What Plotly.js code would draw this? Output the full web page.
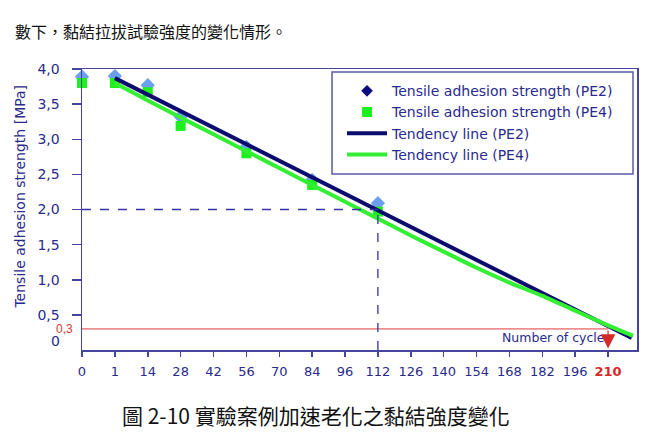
<!DOCTYPE html>
<html><head><meta charset="utf-8">
<script src="https://cdn.plot.ly/plotly-3.0.1.min.js"></script>
<style>html,body{margin:0;padding:0;background:#fff;}#chart{width:645px;height:435px;}</style>
</head><body><div id="chart"></div>
<script>
// ---- data ----
const cycleLabels = ['0','1','14','28','42','56','70','84','96','112','126','140','154','168','182','196','210'];
const testCycles = ['0','1','14','28','56','84','112'];
const strengthPE2 = [3.89, 3.90, 3.77, 3.32, 2.89, 2.42, 2.09];
const strengthPE4 = [3.80, 3.80, 3.67, 3.19, 2.80, 2.35, 1.97];
const trendPosPE2 = [1, 16.72];
const trendPE2 = [3.87, 0.17];
const trendPosPE4 = [1, 2, 3, 4, 5, 6, 7, 8, 9, 10, 11, 12, 13, 14, 15, 16, 16.76];
const trendPE4 = [3.80, 3.55, 3.31, 3.07, 2.83, 2.59, 2.35, 2.11, 1.87, 1.63, 1.40, 1.17, 0.96, 0.77, 0.56, 0.35, 0.20];
const yTickVals = [0.5, 1, 1.5, 2, 2.5, 3, 3.5, 4];
const yTickText = ['0,5', '1,0', '1,5', '2,0', '2,5', '3,0', '3,5', '4,0'];
const thresholdValue = 0.3;
const thresholdLabel = '0,3';
const targetCycle = '210';
const refValue = 2.0;
const refCycle = '112';
const legendNames = ['Tensile adhesion strength (PE2)', 'Tensile adhesion strength (PE4)', 'Tendency line (PE2)', 'Tendency line (PE4)'];
const topText = '數下，黏結拉拔試驗強度的變化情形。';
const captionText = '圖 2-10 實驗案例加速老化之黏結強度變化';
const yTitle = 'Tensile adhesion strength [MPa]';
const xTitle = 'Number of cycles';

// ---- derived ----
const idx = c => cycleLabels.indexOf(c);
const testPos = testCycles.map(idx);
const tickPos = cycleLabels.map((c, i) => i);
const tickText = cycleLabels.map(c => c === targetCycle ? "<b><span style='color:#d42a2a'>" + c + "</span></b>" : c);
const tPos = idx(targetCycle);
const rPos = idx(refCycle);

const NAVY = '#2a2a8c';
const AX = '#4545a0';
const FONT = 'DejaVu Sans, Verdana, sans-serif';
const FONT2 = 'Liberation Sans, Arial, sans-serif';
const CJK = 'Noto Sans CJK TC, sans-serif';

const traces = [
  {x: testPos, y: strengthPE2, type: 'scatter', mode: 'markers', showlegend: false, cliponaxis: false,
   marker: {symbol: 'diamond', size: 11, color: '#6c9ff0'}},
  {x: testPos, y: strengthPE4, type: 'scatter', mode: 'markers', name: legendNames[1], legendrank: 2, cliponaxis: false,
   marker: {symbol: 'square', size: 10, color: '#1ef01e'}},
  {x: trendPosPE2, y: trendPE2, type: 'scatter', mode: 'lines', name: legendNames[2], legendrank: 3,
   line: {color: '#0c0c6e', width: 4}},
  {x: trendPosPE4, y: trendPE4, type: 'scatter', mode: 'lines', name: legendNames[3], legendrank: 4,
   line: {color: '#33ee33', width: 4, shape: 'spline', smoothing: 0.6}},
  {x: [null], y: [null], type: 'scatter', mode: 'markers', name: legendNames[0], legendrank: 1,
   marker: {symbol: 'diamond', size: 9, color: '#0c0c80'}}
];

const layout = {
  width: 645, height: 435,
  margin: {l: 82, r: 8, t: 69, b: 85},
  paper_bgcolor: '#fff', plot_bgcolor: '#fff',
  font: {family: FONT, color: NAVY, size: 14},
  showlegend: true,
  legend: {x: 0.4685, y: 0.978, xanchor: 'left', yanchor: 'top', bgcolor: 'rgba(0,0,0,0)',
           borderwidth: 0, font: {family: FONT, size: 14, color: NAVY},
           itemwidth: 40, tracegroupgap: 0},
  xaxis: {range: [0, 16.88], tickvals: tickPos, ticktext: tickText, showgrid: false, zeroline: false,
          showline: true, linecolor: AX, linewidth: 1.5, mirror: true, ticks: 'outside', ticklen: 5,
          tickcolor: AX, tickwidth: 1.5, tickfont: {family: FONT, size: 13, color: NAVY}, ticklabelstandoff: 4},
  yaxis: {range: [0, 4], tickvals: yTickVals, ticktext: yTickText, showgrid: false, zeroline: false,
          showline: true, linecolor: AX, linewidth: 1.5, mirror: true, ticks: 'outside', ticklen: 9,
          tickcolor: AX, tickwidth: 1.5, tickfont: {family: FONT, size: 14, color: NAVY}, ticklabelstandoff: 9},
  shapes: [
    {type: 'rect', xref: 'paper', yref: 'paper', x0: 0.4505, x1: 0.9928, y0: 0.6263, y1: 0.9893,
     fillcolor: '#fff', line: {color: '#5a5aa8', width: 1.5}, layer: 'below'},
    {type: 'line', xref: 'x', yref: 'y', x0: 0, x1: tPos, y0: thresholdValue, y1: thresholdValue,
     line: {color: '#e03a3a', width: 1}},
    {type: 'line', xref: 'x', yref: 'y', x0: 0, x1: rPos, y0: refValue, y1: refValue,
     line: {color: '#3434a8', width: 1.3, dash: 'dash'}},
    {type: 'line', xref: 'x', yref: 'y', x0: rPos, x1: rPos, y0: 0, y1: refValue,
     line: {color: '#3434a8', width: 1.3, dash: 'dash'}}
  ],
  annotations: [
    {xref: 'paper', yref: 'paper', x: 0.957, y: 0.043, xanchor: 'right', yanchor: 'middle', showarrow: false,
     text: xTitle, font: {family: FONT, size: 12.5, color: NAVY}},
    {xref: 'x', yref: 'y', axref: 'x', ayref: 'y', x: tPos, y: 0.02, ax: tPos, ay: thresholdValue, text: '',
     showarrow: true, arrowhead: 2, arrowsize: 2.4, arrowwidth: 1.2, arrowcolor: '#d42a2a'},
    {xref: 'paper', yref: 'y', x: 0, y: thresholdValue, xshift: -7, xanchor: 'right', yanchor: 'middle', showarrow: false,
     text: thresholdLabel, font: {family: FONT2, size: 12, color: '#e03a3a'}},
    {xref: 'paper', yref: 'y', x: 0, y: 0, xshift: -20, yshift: 9, xanchor: 'right', yanchor: 'middle', showarrow: false,
     text: '0', font: {family: FONT, size: 14, color: NAVY}},
    {xref: 'paper', yref: 'paper', x: 0, y: 0.546, xshift: -62, xanchor: 'center', yanchor: 'middle', showarrow: false,
     textangle: -90, text: yTitle, font: {family: FONT, size: 14, color: NAVY}},
    {xref: 'paper', yref: 'paper', x: -0.1243, y: 1.135, xanchor: 'left', yanchor: 'middle', showarrow: false,
     text: topText, font: {family: CJK, size: 16, color: '#111'}},
    {xref: 'paper', yref: 'paper', x: 0.4225, y: -0.231, xanchor: 'center', yanchor: 'middle', showarrow: false,
     text: captionText, font: {family: CJK, size: 21, color: '#111'}}
  ]
};

Plotly.newPlot('chart', traces, layout, {staticPlot: true, displayModeBar: false});
</script>
</body></html>
